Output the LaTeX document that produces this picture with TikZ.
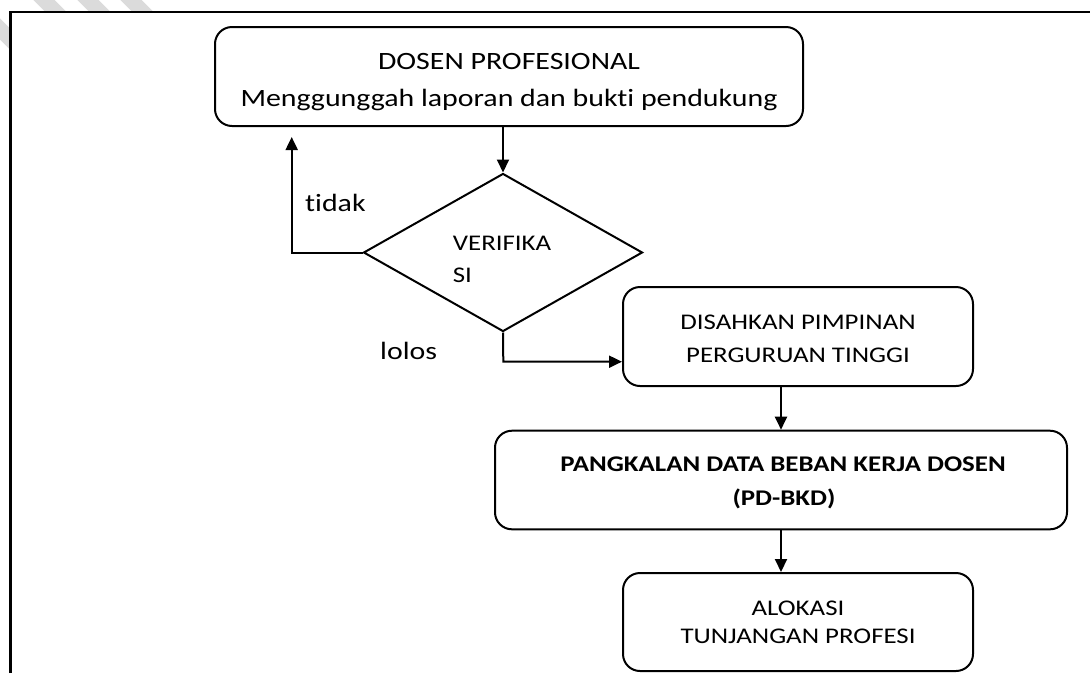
\documentclass[tikz,border=0pt]{standalone}
\usepackage{fontspec}
\setmainfont{Carlito}[FakeStretch=1.2,Ligatures=NoCommon]
\usetikzlibrary{arrows.meta,shapes.geometric}
\begin{document}
\begin{tikzpicture}[x=1pt,y=-1pt,
  box/.style={draw,line width=2pt,rectangle,rounded corners=17pt,inner sep=0pt},
  dec/.style={draw,line width=2pt,diamond,inner sep=0pt},
  arr/.style={line width=2pt,-{Triangle[length=13pt,width=12pt]}},
  txtbig/.style={inner sep=0pt,anchor=base,font=\fontsize{24.9}{24.9}\selectfont},
  txtsm/.style={inner sep=0pt,anchor=base,font=\fontsize{22.4}{22.4}\selectfont},
  wm/.style={line width=15pt,color=black!14},
  frame/.style={line width=2.5pt}]
\useasboundingbox (0,0) rectangle (1090,673);
% watermark stripes outside the frame
\begin{scope}
  \clip (0,0) rectangle (1090,673);
  \foreach \c in {44,88,131,-29,-122}{
    \draw[wm] ({\c-60},-60) -- ({\c+80},80);
  }
\end{scope}
\fill[white] (10.5,12) rectangle (1100,690);
\draw[frame] (10.5,673) -- (10.5,12) -- (1090,12);

% nodes
\node[box,minimum width=588pt,minimum height=99pt] (top) at (509,76.5) {};
\node[txtbig] (t1) at (509,69) {DOSEN PROFESIONAL};
\node[txtbig] (t2) at (509,106) {Menggunggah laporan dan bukti pendukung};

\node[dec,minimum width=279pt,minimum height=158pt] (dia) at (503,252.5) {};
\node[txtsm,anchor=base west] (v1) at (452.7,250.7) {VERIFIKA};
\node[txtsm,anchor=base west] (v2) at (452.7,282.7) {SI};

\node[box,minimum width=350pt,minimum height=99pt] (sah) at (798,336.5) {};
\node[txtsm] (s1) at (798,329) {DISAHKAN PIMPINAN};
\node[txtsm] (s2) at (798,362.3) {PERGURUAN TINGGI};

\node[box,minimum width=572pt,minimum height=98.6pt] (pd) at (781,480) {};
\node[txtsm,font=\fontsize{22.4}{22.4}\selectfont\bfseries] (p1) at (783,471.7) {PANGKALAN DATA BEBAN KERJA DOSEN};
\node[txtsm,font=\fontsize{22.4}{22.4}\selectfont\bfseries] (p2) at (784,505) {(PD-BKD)};

\node[box,minimum width=350pt,minimum height=98pt] (alo) at (798,622) {};
\node[txtsm] (a1) at (798,615) {ALOKASI};
\node[txtsm] (a2) at (798,643.3) {TUNJANGAN PROFESI};

\node[txtbig,anchor=base west] (tidak) at (305,211.7) {tidak};
\node[txtbig,anchor=base west] (lolos) at (380,359.3) {lolos};

\coordinate (tidakEnd) at (291.7,137);
\coordinate (lolosBend) at (503.3,361.7);

% connectors
\draw[arr] (top.south -| dia.north) -- (dia.north);
\draw[arr] (dia.west) -| (tidakEnd);
\draw[arr] (dia.south) -- (lolosBend) -- (lolosBend -| sah.west);
\draw[arr] (sah.south -| pd.north) -- (pd.north);
\draw[arr] (pd.south) -- (pd.south |- alo.north);
\end{tikzpicture}
\end{document}
